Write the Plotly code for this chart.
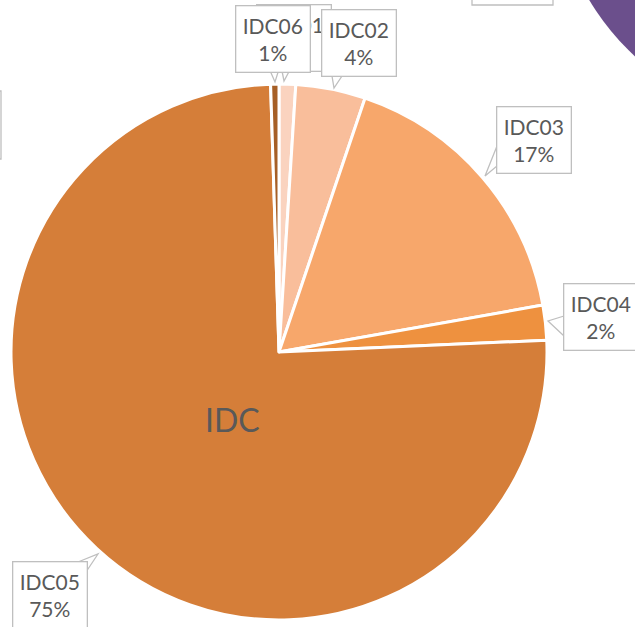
import plotly.graph_objects as go

# slices, clockwise from 12 o'clock
labels = ["IDC01", "IDC02", "IDC03", "IDC04", "IDC05", "IDC06"]
values = [1.0, 4.2, 17.0, 2.1, 75.2, 0.5]
pcts = ["1%", "4%", "17%", "2%", "75%", "1%"]
colors = ["#FAD3BF", "#F9BE9B", "#F7A76B", "#EE913F", "#D57E39", "#A65F26"]

W, H = 635, 627
GREY = "#BFBFBF"
TXT = "#595959"
FONT = "Lato"

fig = go.Figure()

# pie: centre (279, 352), radius 268 px
cx, cy, r = 279, 352, 268
fig.add_trace(go.Pie(
    labels=labels,
    values=values,
    sort=False,
    direction="clockwise",
    rotation=0,
    marker=dict(colors=colors, line=dict(color="white", width=3)),
    textinfo="none",
    hoverinfo="label+percent",
    showlegend=False,
    domain=dict(x=[(cx - r) / W, (cx + r) / W], y=[1 - (cy + r) / H, 1 - (cy - r) / H]),
))

# invisible pixel-space axes for labels / callouts
fig.update_xaxes(range=[0, W], visible=False, fixedrange=True)
fig.update_yaxes(range=[H, 0], visible=False, fixedrange=True)

# callout boxes: (centre x, centre y), tail (base1, base2, tip)
boxes = {
    "IDC01": ((293.5, 38), [(281, 66), (292, 66), (284, 81)]),
    "IDC06": ((272.5, 38.5), [(268, 66), (280, 66), (275, 82)]),
    "IDC02": ((358.5, 43), [(331, 70), (346, 70), (334, 88)]),
    "IDC03": ((533.5, 139.5), [(497, 146), (497, 166), (485, 176)]),
    "IDC04": ((600.5, 316.5), [(564, 316), (564, 336), (548, 321)]),
    "IDC05": ((49.5, 594.5), [(78, 562), (86, 572), (98, 554)]),
}

shapes = [
    # bits of neighbouring objects cut by the crop
    dict(type="circle", xref="x", yref="y", x0=812 - 260, x1=812 + 260, y0=-134 - 260, y1=-134 + 260,
         fillcolor="#6B4F8C", line=dict(width=0), layer="below"),
    dict(type="rect", xref="x", yref="y", x0=472, x1=553, y0=-50, y1=5,
         line=dict(color=GREY, width=1.3), fillcolor="white"),
    dict(type="rect", xref="x", yref="y", x0=-100, x1=1, y0=91, y1=159,
         line=dict(color=GREY, width=1.3), fillcolor="white"),
]

annotations = []
for name in ["IDC01", "IDC06", "IDC02", "IDC03", "IDC04", "IDC05"]:
    (bx, by), tail = boxes[name]
    (x1, y1), (x2, y2), (x3, y3) = tail
    shapes.append(dict(type="path", xref="x", yref="y",
                       path=f"M{x1},{y1} L{x3},{y3} L{x2},{y2} Z",
                       fillcolor="white", line=dict(color=GREY, width=1.3), layer="above"))
    i = labels.index(name)
    annotations.append(dict(
        x=bx, y=by, xref="x", yref="y", xanchor="center", yanchor="middle",
        text=f"{name}<br>{pcts[i]}", showarrow=False,
        font=dict(family=FONT, size=21, color=TXT),
        bgcolor="white", bordercolor=GREY, borderwidth=1.3, borderpad=0,
        width=73, height=65,
    ))

annotations.append(dict(x=232, y=419, xref="x", yref="y", text="IDC", showarrow=False,
                        font=dict(family=FONT, size=32, color=TXT)))

fig.update_layout(
    width=W, height=H,
    margin=dict(l=0, r=0, t=0, b=0),
    paper_bgcolor="white", plot_bgcolor="rgba(0,0,0,0)",
    shapes=shapes, annotations=annotations,
)

fig.write_html("out.html", config={"displayModeBar": False},
               post_script="document.body.style.margin='0';")
